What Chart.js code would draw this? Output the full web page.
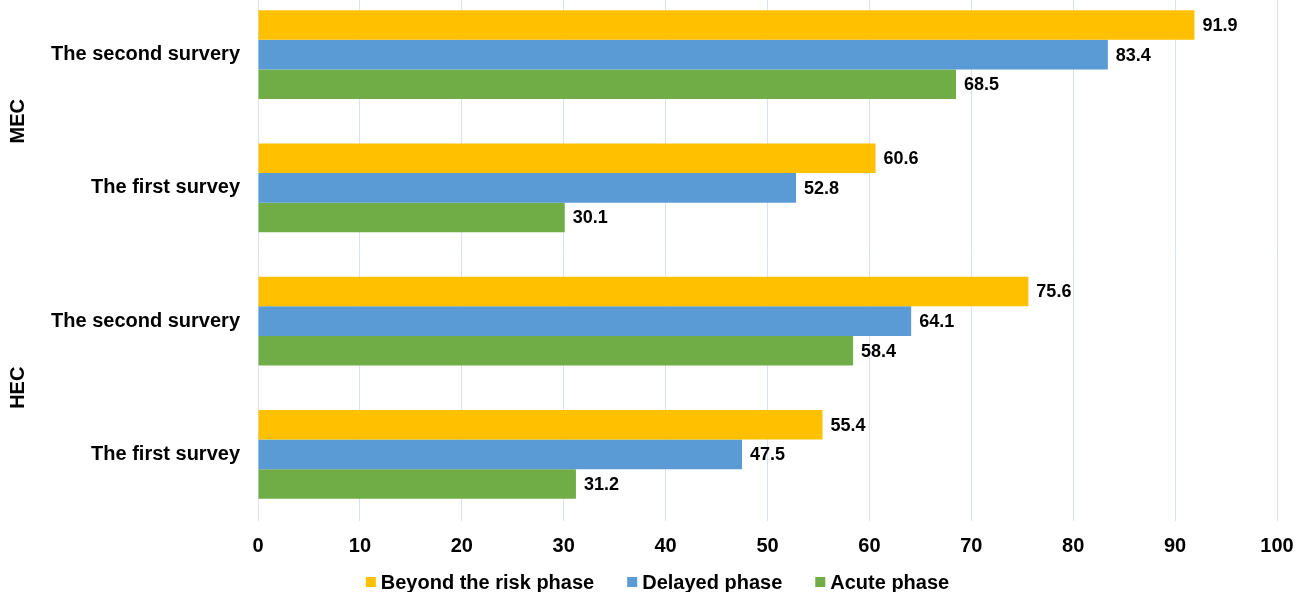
<!DOCTYPE html>
<html>
<head>
<meta charset="utf-8">
<script src="https://cdn.jsdelivr.net/npm/chart.js@4/dist/chart.umd.min.js"></script>
<style>
	html, body { margin: 0; padding: 0; background: #fff; overflow: hidden; }
	#wrap { position: absolute; left: 0; top: -12px; width: 1301px; height: 618px; }
</style>
</head>
<body>
<div id="wrap"><canvas id="mycanvas"></canvas></div>
<script>
var surveys = ['The second survery', 'The first survey', 'The second survery', 'The first survey'];
var groups = ['MEC', 'HEC'];
var beyondRisk = [91.9, 60.6, 75.6, 55.4];
var delayed = [83.4, 52.8, 64.1, 47.5];
var acute = [68.5, 30.1, 58.4, 31.2];
var xTicks = [0, 10, 20, 30, 40, 50, 60, 70, 80, 90, 100];

var FONT = '"Liberation Sans", Arial, sans-serif';

// value printed just right of each bar
var barValues = {
	id: 'barValues',
	afterDatasetsDraw: function(chart) {
		var ctx = chart.ctx;
		ctx.save();
		ctx.font = 'bold 18px ' + FONT;
		ctx.fillStyle = '#000';
		ctx.textAlign = 'left';
		ctx.textBaseline = 'middle';
		chart.data.datasets.forEach(function(ds, i) {
			chart.getDatasetMeta(i).data.forEach(function(bar, j) {
				ctx.fillText(ds.data[j].toFixed(1), bar.x + 8, bar.y + 1);
			});
		});
		ctx.restore();
	}
};

// rotated MEC / HEC labels, each centred on its pair of rows
var groupLabels = {
	id: 'groupLabels',
	afterDraw: function(chart) {
		var ctx = chart.ctx;
		var y = chart.scales.y;
		ctx.save();
		ctx.font = 'bold 20px ' + FONT;
		ctx.fillStyle = '#000';
		ctx.textAlign = 'center';
		ctx.textBaseline = 'middle';
		groups.forEach(function(name, g) {
			var mid = (y.getPixelForValue(g * 2) + y.getPixelForValue(g * 2 + 1)) / 2;
			ctx.save();
			ctx.translate(18, mid);
			ctx.rotate(-Math.PI / 2);
			ctx.fillText(name, 0, 0);
			ctx.restore();
		});
		ctx.restore();
	}
};

// legend row under the axis: small square, short gap, bold name
var bottomLegend = {
	id: 'bottomLegend',
	afterDraw: function(chart) {
		var ctx = chart.ctx;
		var box = 10, gap = 5, spacing = 33;
		ctx.save();
		ctx.font = 'bold 20px ' + FONT;
		ctx.textAlign = 'left';
		ctx.textBaseline = 'middle';
		var items = chart.data.datasets.map(function(ds) {
			return { text: ds.label, color: ds.backgroundColor, w: ctx.measureText(ds.label).width };
		});
		var total = 0;
		items.forEach(function(it, i) {
			total += box + gap + it.w + (i < items.length - 1 ? spacing : 0);
		});
		var x = chart.width / 2 + 7 - total / 2;
		var yMid = chart.height - 24;
		items.forEach(function(it) {
			ctx.fillStyle = it.color;
			ctx.fillRect(x, yMid - 5, box, box);
			ctx.fillStyle = '#000';
			ctx.fillText(it.text, x + box + gap, yMid + 1);
			x += box + gap + it.w + spacing;
		});
		ctx.restore();
	}
};

var chartdata = {
	labels: surveys,
	datasets: [
		{ label: 'Beyond the risk phase', backgroundColor: '#FFC000', data: beyondRisk },
		{ label: 'Delayed phase', backgroundColor: '#5B9BD5', data: delayed },
		{ label: 'Acute phase', backgroundColor: '#70AD47', data: acute }
	]
};

var ctx = document.getElementById('mycanvas');

var barGraph = new Chart(ctx, {
	type: 'bar',
	data: chartdata,
	plugins: [barValues, groupLabels, bottomLegend],
	options: {
		indexAxis: 'y',
		responsive: true,
		maintainAspectRatio: false,
		animation: false,
		datasets: {
			bar: { barPercentage: 1.0, categoryPercentage: 0.6675 }
		},
		layout: { padding: { left: 0, right: 24, top: 0, bottom: 40 } },
		scales: {
			x: {
				min: 0,
				max: 100,
				afterBuildTicks: function(scale) {
					scale.ticks = xTicks.map(function(v) { return { value: v }; });
				},
				afterFit: function(scale) {
					scale.height = 45;
					scale.paddingLeft = 0;
					scale.paddingRight = 0;
				},
				grid: { color: '#D9E1F2', lineWidth: 1, drawTicks: false },
				border: { display: false },
				ticks: {
					padding: 13,
					color: '#000',
					font: { family: FONT, size: 20, weight: 'bold' }
				}
			},
			y: {
				afterFit: function(scale) {
					scale.width = 258;
					scale.paddingTop = 0;
					scale.paddingBottom = 0;
				},
				grid: { display: false },
				border: { display: false },
				ticks: {
					padding: 10,
					color: '#000',
					font: { family: FONT, size: 20, weight: 'bold' }
				}
			}
		},
		plugins: {
			legend: { display: false },
			tooltip: { enabled: false }
		}
	}
});
</script>
</body>
</html>
